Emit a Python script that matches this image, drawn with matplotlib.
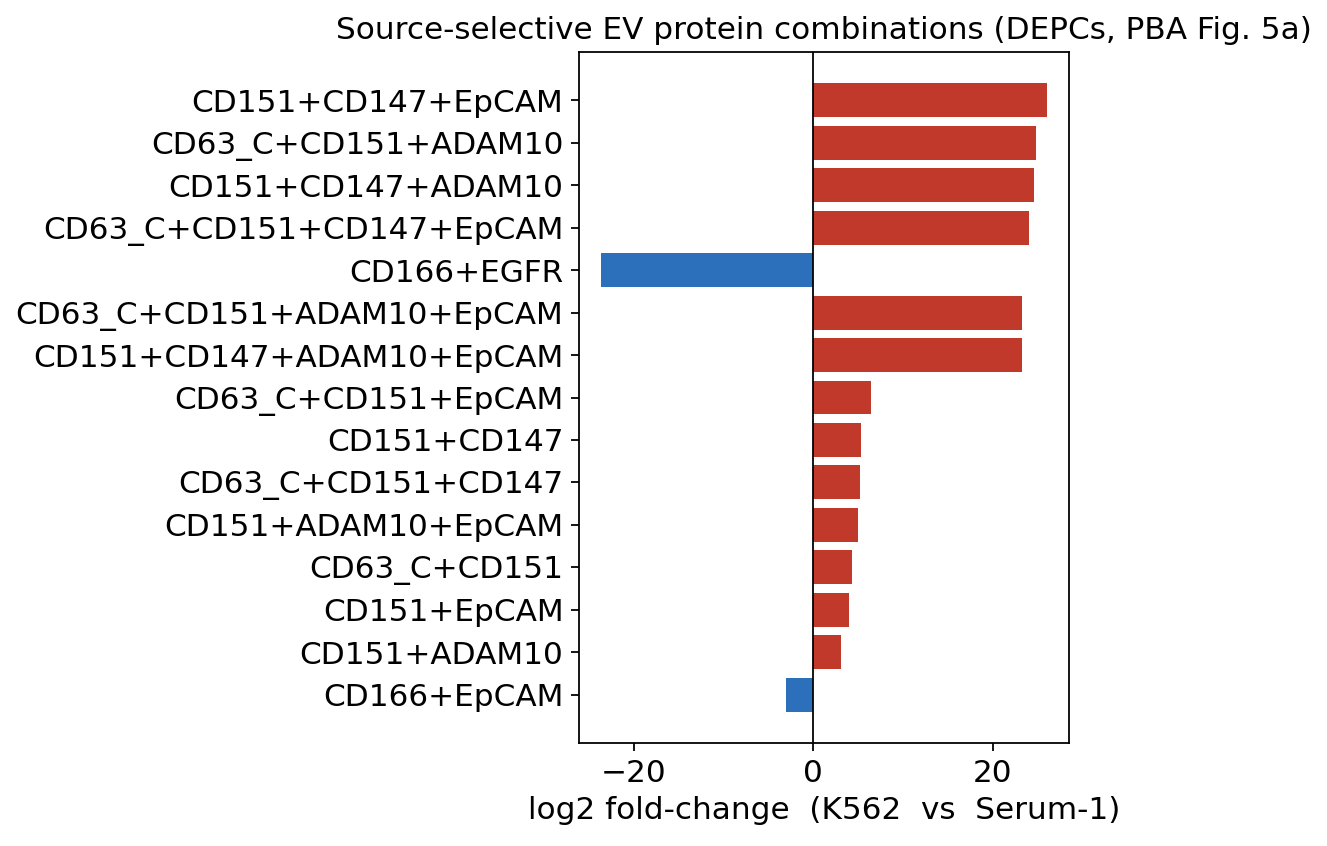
import matplotlib
matplotlib.use("Agg")
import matplotlib.pyplot as plt

labels = [
    "CD151+CD147+EpCAM",
    "CD63_C+CD151+ADAM10",
    "CD151+CD147+ADAM10",
    "CD63_C+CD151+CD147+EpCAM",
    "CD166+EGFR",
    "CD63_C+CD151+ADAM10+EpCAM",
    "CD151+CD147+ADAM10+EpCAM",
    "CD63_C+CD151+EpCAM",
    "CD151+CD147",
    "CD63_C+CD151+CD147",
    "CD151+ADAM10+EpCAM",
    "CD63_C+CD151",
    "CD151+EpCAM",
    "CD151+ADAM10",
    "CD166+EpCAM",
]
values = [26.0, 24.8, 24.6, 24.0, -23.6, 23.3, 23.2, 6.4, 5.3, 5.2, 5.0, 4.3, 4.0, 3.1, -3.0]

red = "#c0392b"
blue = "#2c6fbb"
colors = [red if v > 0 else blue for v in values]

plt.rcParams["font.size"] = 14
fig = plt.figure(figsize=(1327 / 160, 846 / 160), dpi=160)
ax = fig.add_axes([579 / 1327, 1 - 743 / 846, (1069 - 579) / 1327, (743 - 52) / 846])
ypos = list(range(len(labels)))
ax.barh(ypos, values, color=colors, height=0.8)
ax.axvline(0, color="black", linewidth=0.8)
ax.set_yticks(ypos)
ax.set_yticklabels(labels)
ax.invert_yaxis()
ax.set_xlabel("log2 fold-change  (K562  vs  Serum-1)")
ax.set_title("Source-selective EV protein combinations (DEPCs, PBA Fig. 5a)", fontsize=14)
fig.savefig("out.png", dpi=160)
